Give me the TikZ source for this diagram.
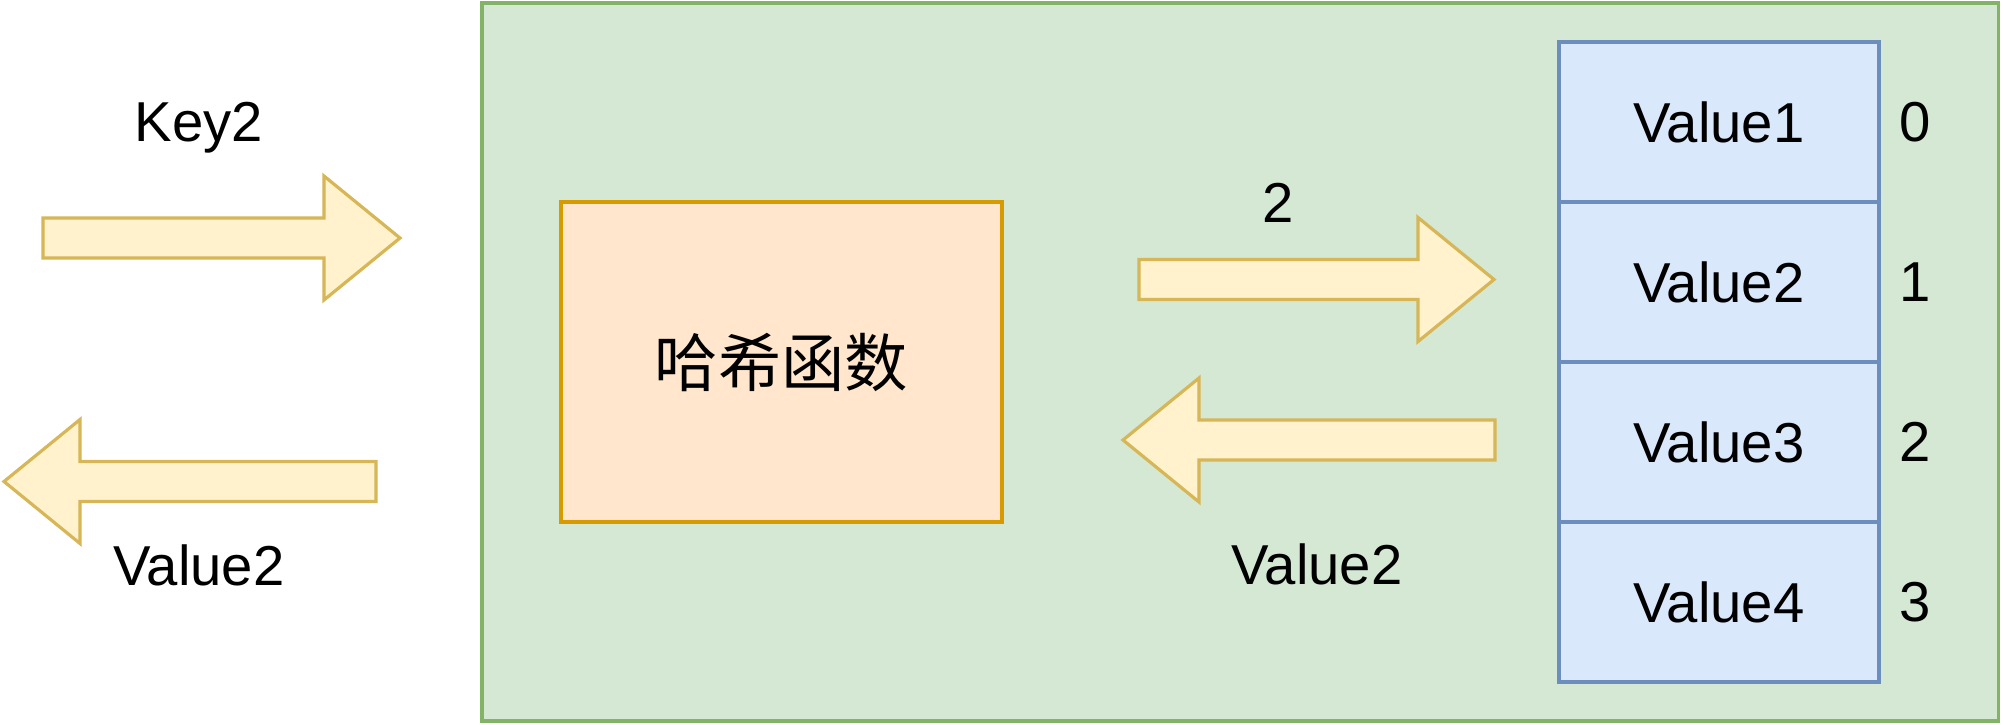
\documentclass[tikz,border=0pt]{standalone}
\usepackage{fontspec}
\setmainfont{Liberation Sans}
\newfontfamily\cjk{Noto Sans CJK SC}
\usetikzlibrary{positioning}

\definecolor{greenfill}{HTML}{D5E8D4}
\definecolor{greenline}{HTML}{82B366}
\definecolor{orangefill}{HTML}{FFE6CC}
\definecolor{orangeline}{HTML}{D79B00}
\definecolor{bluefill}{HTML}{DAE8FC}
\definecolor{blueline}{HTML}{6C8EBF}
\definecolor{arrowfill}{HTML}{FFF2CC}
\definecolor{arrowline}{HTML}{D6B656}

\tikzset{fatarrow/.style={draw=arrowline,fill=arrowfill,line width=0.9pt,line join=miter}}
\newcommand{\fatarrow}[4]{\draw[fatarrow] (#1,#4-20) -- (#2,#4-20) -- (#2,#4-62) -- (#3,#4) -- (#2,#4+62) -- (#2,#4+20) -- (#1,#4+20) -- cycle;}

\begin{document}
\begin{tikzpicture}[x=0.01cm,y=-0.01cm]
\useasboundingbox (0,0) rectangle (2004,724);

\begin{scope}[every node/.style={line width=1.1pt,outer sep=0pt,font=\fontsize{16pt}{19pt}\selectfont}]
    \node[draw=greenline,fill=greenfill,minimum width=15.16cm,minimum height=7.18cm] (table) at (1240,362) {};
    \node[draw=orangeline,fill=orangefill,minimum width=4.41cm,minimum height=3.2cm,font=\cjk\fontsize{18pt}{21pt}\selectfont] (hash) at (781.5,362) {哈希函数};

    \node[draw=blueline,fill=bluefill,minimum width=3.2cm,minimum height=1.6cm] (value1) at (1719,122) {Value1};
    \node[draw=blueline,fill=bluefill,minimum width=3.2cm,minimum height=1.6cm,below=0pt of value1] (value2) {Value2};
    \node[draw=blueline,fill=bluefill,minimum width=3.2cm,minimum height=1.6cm,below=0pt of value2] (value3) {Value3};
    \node[draw=blueline,fill=bluefill,minimum width=3.2cm,minimum height=1.6cm,below=0pt of value3] (value4) {Value4};
\end{scope}

\begin{scope}[every node/.style={inner sep=0pt,font=\fontsize{16pt}{19pt}\selectfont}]
    \node[right=0.2cm of value1] (index0) {0};
    \node[right=0.2cm of value2] (index1) {1};
    \node[right=0.2cm of value3] (index2) {2};
    \node[right=0.2cm of value4] (index3) {3};

    \node (key) at (199,128) {Key2};
    \node (result) at (199,565) {Value2};
    \node (bucket) at (1278,203) {2};
    \node (found) at (1317,564) {Value2};
\end{scope}

\fatarrow{43}{324}{400}{238}
\fatarrow{376}{80}{4}{481.5}
\fatarrow{1139}{1418}{1494}{279.5}
\fatarrow{1495}{1199}{1123}{440}
\end{tikzpicture}
\end{document}
